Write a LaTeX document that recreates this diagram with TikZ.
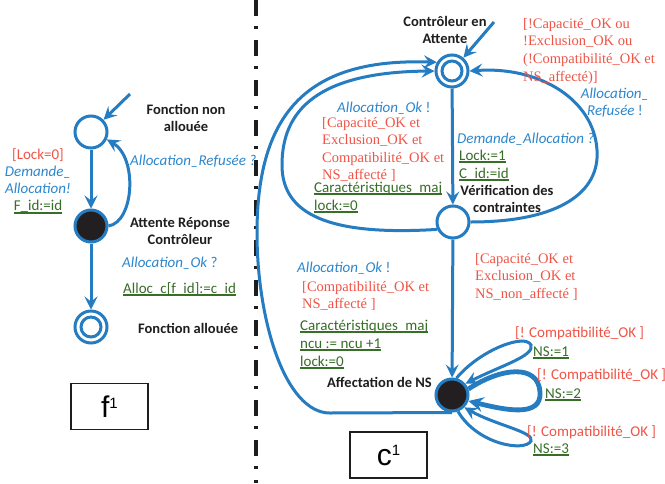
\documentclass[tikz,border=0pt]{standalone}
\usepackage{fontspec}
\setmainfont{Carlito}
\newfontfamily\serifred{Liberation Serif}
\newfontfamily\arialf{Liberation Sans}
\usetikzlibrary{arrows.meta}
\definecolor{blu}{RGB}{38,124,192}
\definecolor{tblu}{RGB}{45,135,205}
\definecolor{rd}{RGB}{240,84,70}
\definecolor{grn}{RGB}{55,110,40}
\definecolor{blk}{RGB}{35,31,32}
\definecolor{ink}{RGB}{30,30,30}
% underlined green action text
\newcommand\ulg[1]{\setbox0\hbox{#1}\rlap{\rule[-3pt]{\wd0}{1.6pt}}\box0}
\tikzset{
  ln/.style={draw=blu, line width=3pt},
  arr/.style={ln, -{Stealth[length=13pt,width=13pt,inset=5pt]}},
  thickarr/.style={draw=blu, line width=4.8pt, -{Stealth[length=15pt,width=15pt,inset=5.5pt]}},
  st/.style={circle, draw=blu, line width=3pt, minimum size=32pt, inner sep=0pt, fill=white},
  stfill/.style={st, fill=blk},
  % multi-line labels are placed by the baseline of their last line
  txt/.style={inner sep=0pt, anchor=base west, align=left},
  bl/.style={txt, text=tblu, font=\fontsize{15}{17.5}\selectfont\itshape},
  rs/.style={txt, text=rd, font=\serifred\fontsize{14.5}{17.5}\selectfont},
  rsans/.style={txt, text=rd, font=\fontsize{15}{17.5}\selectfont},
  gr/.style={txt, text=grn, font=\fontsize{15}{18}\selectfont},
  bd/.style={txt, text=ink, font=\fontsize{14.5}{17.5}\selectfont\bfseries},
  namebox/.style={draw=ink, line width=1.2pt, minimum width=77pt, minimum height=46pt, inner sep=0pt, font=\arialf\fontsize{30}{30}\selectfont},
  divider/.style={draw=ink, line width=4pt, dash pattern=on 16pt off 10pt on 3pt off 11pt}
}
\begin{document}
\begin{tikzpicture}[x=1pt, y=-1pt]
\fill[white] (0,0) rectangle (665,483);
\useasboundingbox (0,0) rectangle (665,483);

% separator between the two automata
\draw[divider] (255.5,0) -- (255.5,483);

% ---------------- function automaton
\node[st] (f0) at (91,132) {};
\node[stfill] (f1) at (91,226) {};
\node[st] (f2) at (91,327) {};
\draw[ln] (f2) circle (10);
\coordinate (fin) at (130,94);
\draw[arr] (fin) -- (f0);
\draw[arr] (f0) -- (f1);
\draw[arr] (f1) -- (f2);
\draw[arr] (f1.east) .. controls (134,222) and (138,158) .. (f0.-25);

\node[txt, anchor=base, align=center, font=\fontsize{15}{17.2}\selectfont] (fdem) at (38,210.6)
  {{\color{rd}[Lock=0]}\\{\color{tblu}\itshape Demande\_}\\{\color{tblu}\itshape Allocation!}\\{\color{grn}\ulg{F\_id:=id}}};
\node[bd, anchor=base, align=center] (fnon) at (186,131.5) {Fonction non\\allouée};
\node[bl] (fref) at (130,165) {Allocation\_Refusée ?};
\node[bd, anchor=base, align=center] (fatt) at (180,244.5) {Attente Réponse\\Contrôleur};
\node[bl] (fok) at (122,267) {Allocation\_Ok \upshape ?};
\node[gr] (falloc) at (123,293) {\ulg{Alloc\_c[f\_id]:=c\_id}};
\node[bd] (fall) at (138,333) {Fonction allouée};
\node[namebox] (fbox) at (109.5,406.5) {f\raisebox{9pt}{\fontsize{15}{15}\selectfont 1}};

% ---------------- controller automaton
\node[st] (c0) at (452,71) {};
\draw[ln] (c0) circle (10);
\node[st] (c1) at (453,222) {};
\node[stfill] (c2) at (452,395) {};
\coordinate (cin) at (494,22);
\draw[arr] (cin) -- (c0);
\draw[arr] (c0) -- (c1);
\draw[arr] (c1) -- (c2);
% grant after constraint check, inner loop
\draw[arr] (c1.205) .. controls (330,236) and (282,215) .. (282,165)
  .. controls (282,110) and (318,72) .. (c0.180);
% refusal, right loop
\draw[arr] (c1.east) .. controls (560,222) and (600,192) .. (597,150)
  .. controls (594,100) and (540,66) .. (c0.east);
% grant after NS assignment, outer loop
\draw[arr] (c2.south) -- (330,413) .. controls (285,413) and (257,320) .. (257,233)
  .. controls (257,110) and (310,58) .. (c0.150);
% NS assignment self-loops
\draw[arr] (c2.75) .. controls (480,350) and (525,333) .. (531,345)
  .. controls (535,356) and (500,366) .. (c2.40);
\draw[thickarr] (c2.20) .. controls (500,368) and (538,363) .. (540,392)
  .. controls (542,418) and (505,410) .. (c2.-20);
\draw[arr] (c2.-70) .. controls (478,445) and (525,452) .. (531,441)
  .. controls (535,432) and (495,425) .. (c2.-45);

\node[bd, anchor=base, align=center] (catt) at (445,43.5) {Contrôleur en\\Attente};
\node[rs, font=\serifred\fontsize{14.5}{17.8}\selectfont] (crefg) at (523,81.4) {[!Capacité\_OK ou\\!Exclusion\_OK ou\\(!Compatibilité\_OK et\\NS\_affecté)]};
\node[bl, anchor=base, align=center] (cref) at (615,115.5) {Allocation\_\\Refusée \upshape !};
\node[bl] (cok1) at (337,112) {Allocation\_Ok \upshape !};
\node[rs] (cokg1) at (322,179.5) {[Capacité\_OK et\\Exclusion\_OK et\\Compatibilité\_OK et\\NS\_affecté ]};
\node[gr] (coka1) at (314,210) {\ulg{Caractéristiques\_maj}\\\ulg{lock:=0}};
\node[bl] (cdem) at (457,143) {Demande\_Allocation ?};
\node[gr] (cdema) at (459,178) {\ulg{Lock:=1}\\\ulg{C\_id:=id}};
\node[bd, anchor=base, align=center] (cver) at (507,212.5) {Vérification des\\contraintes};
\node[rs] (cnsg) at (475,298) {[Capacité\_OK et\\Exclusion\_OK et\\NS\_non\_affecté ]};
\node[bl] (cok2) at (297,272) {Allocation\_Ok \upshape !};
\node[rs] (cokg2) at (302,308.5) {[Compatibilité\_OK et\\NS\_affecté ]};
\node[gr] (coka2) at (300,366) {\ulg{Caractéristiques\_maj}\\\ulg{ncu := ncu +1}\\\ulg{lock:=0}};
\node[bd] (caff) at (327,387) {Affectation de NS};
\node[rsans] (cg1) at (515,337) {[! Compatibilité\_OK ]};
\node[gr] (ca1) at (533,356) {\ulg{NS:=1}};
\node[rsans] (cg2) at (537,379) {[! Compatibilité\_OK ]};
\node[gr] (ca2) at (545,398) {\ulg{NS:=2}};
\node[rsans] (cg3) at (527,436) {[! Compatibilité\_OK ]};
\node[gr] (ca3) at (533,453) {\ulg{NS:=3}};
\node[namebox] (cbox) at (388.5,455) {c\raisebox{10pt}{\fontsize{15}{15}\selectfont 1}};
\end{tikzpicture}
\end{document}
